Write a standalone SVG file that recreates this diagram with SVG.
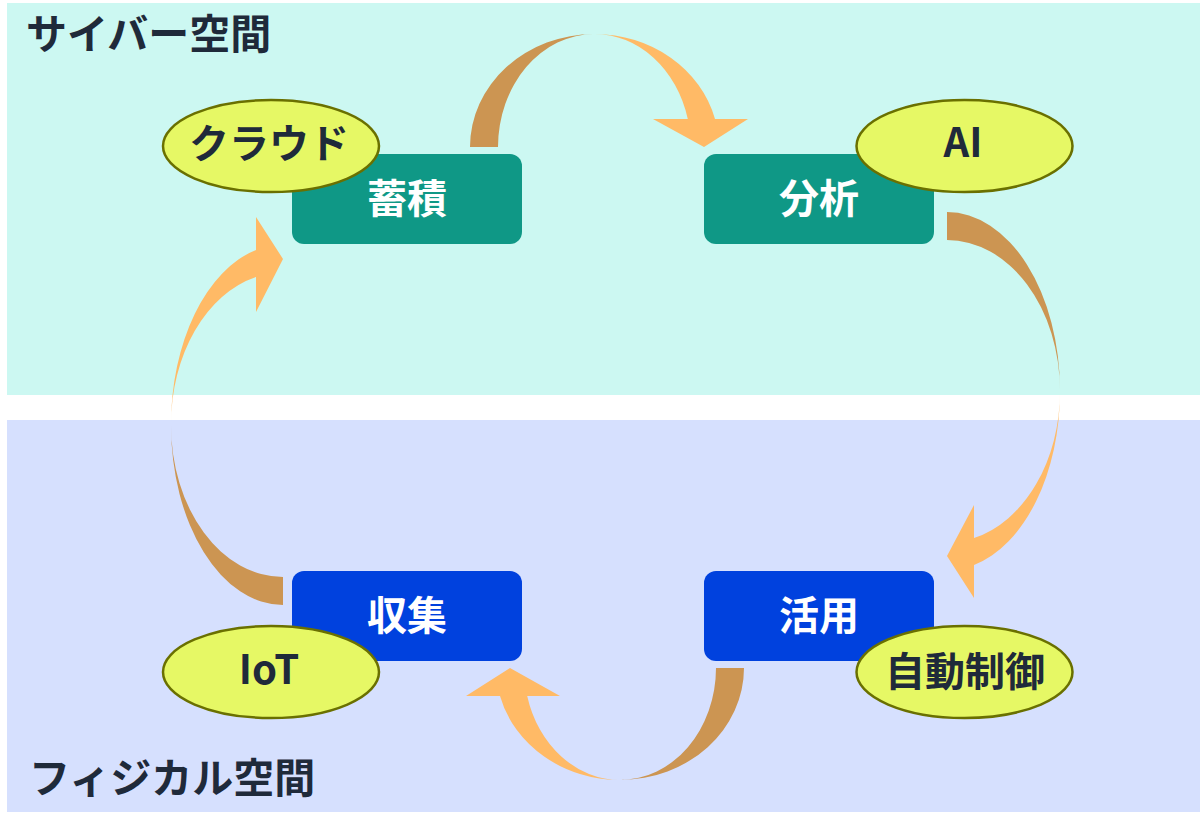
<svg xmlns="http://www.w3.org/2000/svg" width="1200" height="829" viewBox="0 0 1200 829">
<style>
text{font-family:"Noto Sans CJK JP","Noto Sans",sans-serif;font-weight:bold;text-anchor:middle}
.title{font-size:41px;fill:#1f2a3a;text-anchor:start}
.nt{font-size:40px;fill:#ffffff}
.et{font-size:40px;fill:#1f2a3a}
.cyb{fill:#0f9886}
.phy{fill:#0041de}
.ell{fill:#e6f865;stroke:#6a7000;stroke-width:2.5}
.back{fill:#cc9552}
.front{fill:#ffba66}
</style>
<rect width="1200" height="829" fill="#ffffff"/>
<g id="cyber-space">
<rect x="7" y="3" width="1193" height="392" fill="#ccf8f2"/>
<text class="title" x="26" y="49">サイバー空間</text>
</g>
<g id="physical-space">
<rect x="7" y="420" width="1193" height="392" fill="#d6e0fe"/>
<text class="title" x="29" y="793">フィジカル空間</text>
</g>
<g id="connectors">
<path class="back" d="M470,147 A124.4,113 0 0 1 594.4,34 A96.4,113 0 0 0 498,147 Z"/>
<path class="front" d="M594.4,34 A124.4,113 0 0 1 715,119 L748,119 L704,147 L653,119 L687.8,119 A96.4,113 0 0 0 594.4,34 Z"/>
<path class="back" d="M947,212 A113,179 0 0 1 1060,391 A113,151 0 0 0 947,240 Z"/>
<path class="front" d="M1060,391 A113,179 0 0 1 974,565 L974,598 L947,556 L974,505 L974,538 A113,151 0 0 0 1060,391 Z"/>
<path class="back" d="M744,668 A123.9,112 0 0 1 620.1,780 A95.9,112 0 0 0 716,668 Z"/>
<path class="front" d="M620.1,780 A123.9,112 0 0 1 500,696 L466,696 L510,668 L560,696 L527.2,696 A95.9,112 0 0 0 620.1,780 Z"/>
<path class="back" d="M283,605 A112,180 0 0 1 171,425 A112,152 0 0 0 283,577 Z"/>
<path class="front" d="M171,425 A112,180 0 0 1 256,250 L256,217 L283,259 L256,312 L256,277 A112,152 0 0 0 171,425 Z"/>
</g>
<g id="node-chikuseki">
<rect class="cyb" x="292" y="154" width="230" height="90" rx="12"/>
<text class="nt" x="407" y="213">蓄積</text>
</g>
<g id="node-bunseki">
<rect class="cyb" x="704" y="154" width="230" height="90" rx="12"/>
<text class="nt" x="819" y="213">分析</text>
</g>
<g id="node-shushu">
<rect class="phy" x="292" y="571" width="230" height="90" rx="12"/>
<text class="nt" x="407" y="630">収集</text>
</g>
<g id="node-katsuyo">
<rect class="phy" x="704" y="571" width="230" height="90" rx="12"/>
<text class="nt" x="819" y="630">活用</text>
</g>
<g id="node-cloud">
<ellipse class="ell" cx="271" cy="146" rx="108" ry="46"/>
<text class="et" x="269" y="158">クラウド</text>
</g>
<g id="node-ai">
<ellipse class="ell" cx="964.5" cy="146" rx="108" ry="46"/>
<text class="et" x="963" y="157">AI</text>
</g>
<g id="node-iot">
<ellipse class="ell" cx="271" cy="672" rx="108" ry="46"/>
<text class="et" x="269" y="684">IoT</text>
</g>
<g id="node-jidoseigyo">
<ellipse class="ell" cx="964.5" cy="672" rx="108" ry="46"/>
<text class="et" x="965" y="686">自動制御</text>
</g>
</svg>
